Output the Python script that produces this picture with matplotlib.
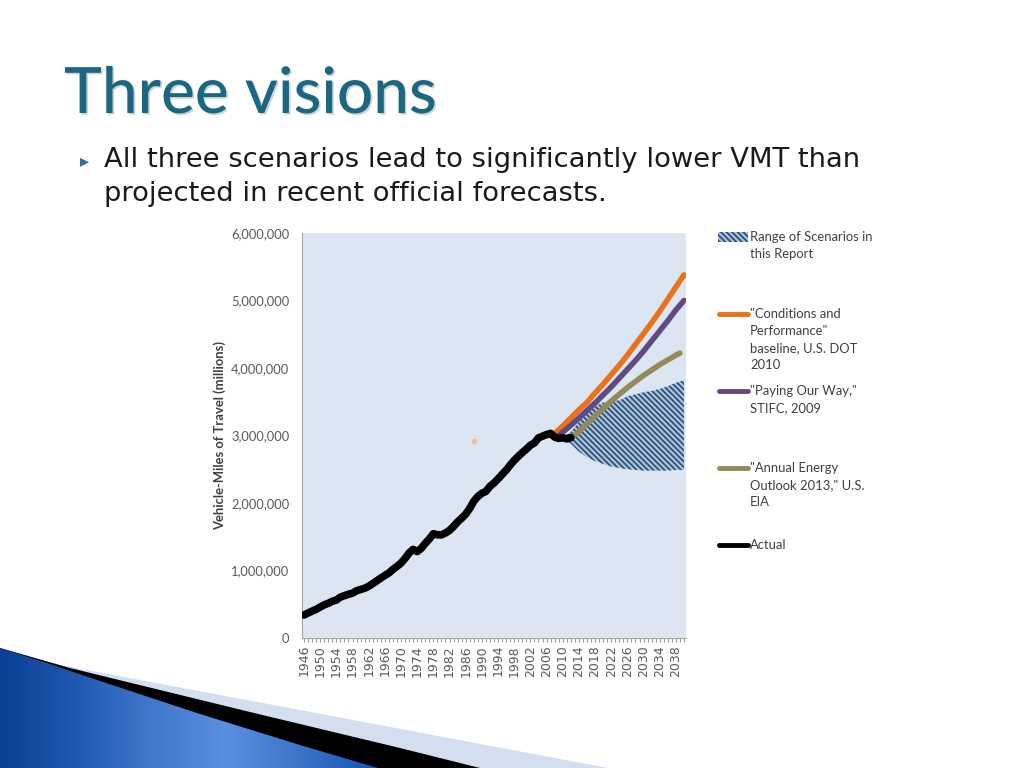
import numpy as np
import matplotlib.pyplot as plt
from matplotlib.patches import Polygon, Rectangle
from matplotlib.colors import LinearSegmentedColormap
from matplotlib.ticker import FuncFormatter, MultipleLocator
import matplotlib.patheffects as pe

plt.rcParams['font.family'] = ['Lato', 'DejaVu Sans']
plt.rcParams['hatch.linewidth'] = 1.2

# actual VMT, millions
years_actual = list(range(1946, 2013))
vmt_actual = [340880, 370894, 397957, 424461, 458246, 491093, 513581, 544433, 561963, 605646,
              627843, 647004, 664653, 700480, 718762, 737421, 766734, 805249, 846298, 887812,
              925899, 964005, 1015869, 1061791, 1109724, 1178811, 1259786, 1313110, 1280544, 1327664,
              1402380, 1467027, 1544704, 1529133, 1527295, 1555308, 1595010, 1652788, 1720269, 1774826,
              1834872, 1921204, 2025962, 2096487, 2144362, 2172050, 2247151, 2296378, 2357588, 2422696,
              2485848, 2561695, 2631522, 2691056, 2746925, 2797287, 2855508, 2890221, 2964788, 2989430,
              3014371, 3031124, 2976528, 2956764, 2967266, 2950402, 2968815]

# projections (millions)
years_cp = [2008, 2010, 2012, 2014, 2016, 2018, 2020, 2022, 2024, 2026, 2028, 2030, 2032, 2034, 2036, 2038, 2040]
vmt_cp = [3030000, 3140000, 3260000, 3380000, 3490000, 3630000, 3760000, 3900000, 4040000, 4190000,
          4350000, 4510000, 4670000, 4840000, 5020000, 5200000, 5380000]

years_pow = [2009, 2010, 2012, 2014, 2016, 2018, 2020, 2022, 2024, 2026, 2028, 2030, 2032, 2034, 2036, 2038, 2040]
vmt_pow = [3000000, 3050000, 3150000, 3260000, 3370000, 3480000, 3600000, 3720000, 3850000, 3980000,
           4110000, 4250000, 4400000, 4550000, 4700000, 4860000, 5000000]

years_aeo = [2012, 2014, 2016, 2018, 2020, 2022, 2024, 2026, 2028, 2030, 2032, 2034, 2036, 2038, 2039]
vmt_aeo = [2960000, 3060000, 3170000, 3290000, 3400000, 3510000, 3610000, 3710000, 3800000, 3890000,
           3970000, 4050000, 4120000, 4190000, 4220000]

years_range = [2010, 2012, 2014, 2016, 2018, 2020, 2022, 2024, 2026, 2028, 2030, 2032, 2034, 2036, 2038, 2040]
range_high = [2970000, 3050000, 3200000, 3330000, 3430000, 3490000, 3510000, 3520000, 3580000, 3610000,
              3640000, 3660000, 3690000, 3730000, 3780000, 3820000]
range_low = [2930000, 2880000, 2760000, 2680000, 2620000, 2580000, 2540000, 2520000, 2500000, 2490000,
             2480000, 2480000, 2480000, 2480000, 2490000, 2490000]

stray_year = [1988]
stray_val = [2920000]

legend_labels = ['Range of Scenarios in\nthis Report',
                 '"Conditions and\nPerformance"\nbaseline, U.S. DOT\n2010',
                 '"Paying Our Way,"\nSTIFC, 2009',
                 '"Annual Energy\nOutlook 2013," U.S.\nEIA',
                 'Actual']

c_cp = '#e8731c'
c_pow = '#5f4a82'
c_aeo = '#938b57'
c_act = '#000000'
c_hatch = '#2c4a6b'
hatch_pat = '\\' * 6

fig = plt.figure(figsize=(10.24, 7.68), dpi=100)

# slide layer in pixel coordinates
bg = fig.add_axes([0, 0, 1, 1], zorder=0)
bg.axis('off')

light = Polygon([(0, 648), (60, 665), (300, 710), (608, 768), (0, 768)],
                closed=True, fc='#d3deef', ec='none', zorder=1)
black = Polygon([(0, 648), (70, 668), (250, 712), (400, 748), (480, 768), (0, 768)],
                closed=True, fc='black', ec='none', zorder=2)
blue = Polygon([(0, 648), (50, 664), (100, 681), (200, 714), (300, 745), (378, 768), (0, 768)],
               closed=True, fc='none', ec='none', zorder=3)
bg.add_patch(light)
bg.add_patch(black)
bg.add_patch(blue)
cmap = LinearSegmentedColormap.from_list('slide', ['#0a3f92', '#1f58b0', '#3f78cc', '#5a8ee0', '#3c73c9', '#1553b3'])
grad = np.linspace(0, 1, 256).reshape(1, -1)
im = bg.imshow(grad, extent=(0, 378, 768, 645), cmap=cmap, aspect='auto', zorder=4)
im.set_clip_path(blue)
bg.set_xlim(0, 1024)
bg.set_ylim(768, 0)

# title and bullet
bg.text(64, 113, 'Three visions', fontsize=46, color='#1b6681', fontweight='medium',
        path_effects=[pe.withSimplePatchShadow(offset=(1.2, -1.2), shadow_rgbFace='#9aa9ae', alpha=0.5)])
bg.text(80, 166, '\u25b8', fontsize=13, color='#2f6f98', family=['DejaVu Sans'])
bg.text(104, 167, 'All three scenarios lead to significantly lower VMT than', fontsize=19.7,
        color='#1a1a1a', family=['DejaVu Sans'])
bg.text(104, 201, 'projected in recent official forecasts.', fontsize=19.7,
        color='#1a1a1a', family=['DejaVu Sans'])

# legend drawn on the slide layer
entry_y = [237, 314, 391, 468, 545]
bg.add_patch(Rectangle((718, entry_y[0] - 5), 30, 10, fc='#a7c3e0', ec=c_hatch, hatch=hatch_pat, lw=0))
for yy, col in zip(entry_y[1:], [c_cp, c_pow, c_aeo, c_act]):
    bg.plot([719, 748], [yy, yy], color=col, lw=3.5, solid_capstyle='round')
for yy, lab in zip(entry_y, legend_labels):
    bg.text(750, yy - 6, lab, fontsize=9.4, color='#404040', va='top', linespacing=1.5)

# chart
ax = fig.add_axes([302 / 1024, 1 - 638 / 768, 384 / 1024, 405 / 768], zorder=2)
ax.set_facecolor('#dce6f2')
ax.fill_between(years_range, range_low, range_high, facecolor='#a7c3e0', edgecolor=c_hatch,
                hatch=hatch_pat, lw=0, zorder=2)
ax.plot(years_cp, vmt_cp, color=c_cp, lw=4, solid_capstyle='round', zorder=3)
ax.plot(years_pow, vmt_pow, color=c_pow, lw=4, solid_capstyle='round', zorder=3)
ax.plot(years_aeo, vmt_aeo, color=c_aeo, lw=4, solid_capstyle='round', zorder=3)
ax.plot(years_actual, vmt_actual, color=c_act, lw=5.5, solid_capstyle='round', zorder=4)
ax.plot(stray_year, stray_val, 'o', ms=3, color='#f4b183', alpha=0.7, zorder=3)

ax.set_xlim(1945.5, 2040.5)
ax.set_ylim(0, 6000000)
ax.set_yticks(range(0, 6000001, 1000000))
ax.yaxis.set_major_formatter(FuncFormatter(lambda v, p: '{:,.0f}'.format(v)))
ax.set_xticks(range(1946, 2040, 4))
ax.xaxis.set_minor_locator(MultipleLocator(1))
ax.tick_params(axis='x', which='both', direction='out', length=3, color='#a0a0a0', width=0.8)
ax.tick_params(axis='x', labelrotation=90, labelsize=9, labelcolor='#595959', pad=2)
for t in ax.get_xticklabels():
    t.set_family(['DejaVu Sans'])
ax.tick_params(axis='y', length=0, labelsize=9.3, labelcolor='#595959', pad=9)
for s in ['top', 'right']:
    ax.spines[s].set_visible(False)
ax.spines['left'].set_color('#a6a6a6')
ax.spines['bottom'].set_color('#a6a6a6')
ax.set_ylabel('Vehicle-Miles of Travel (millions)', fontsize=9.4, fontweight='bold', color='#404040', labelpad=4)

fig.savefig('out.png', dpi=100)
